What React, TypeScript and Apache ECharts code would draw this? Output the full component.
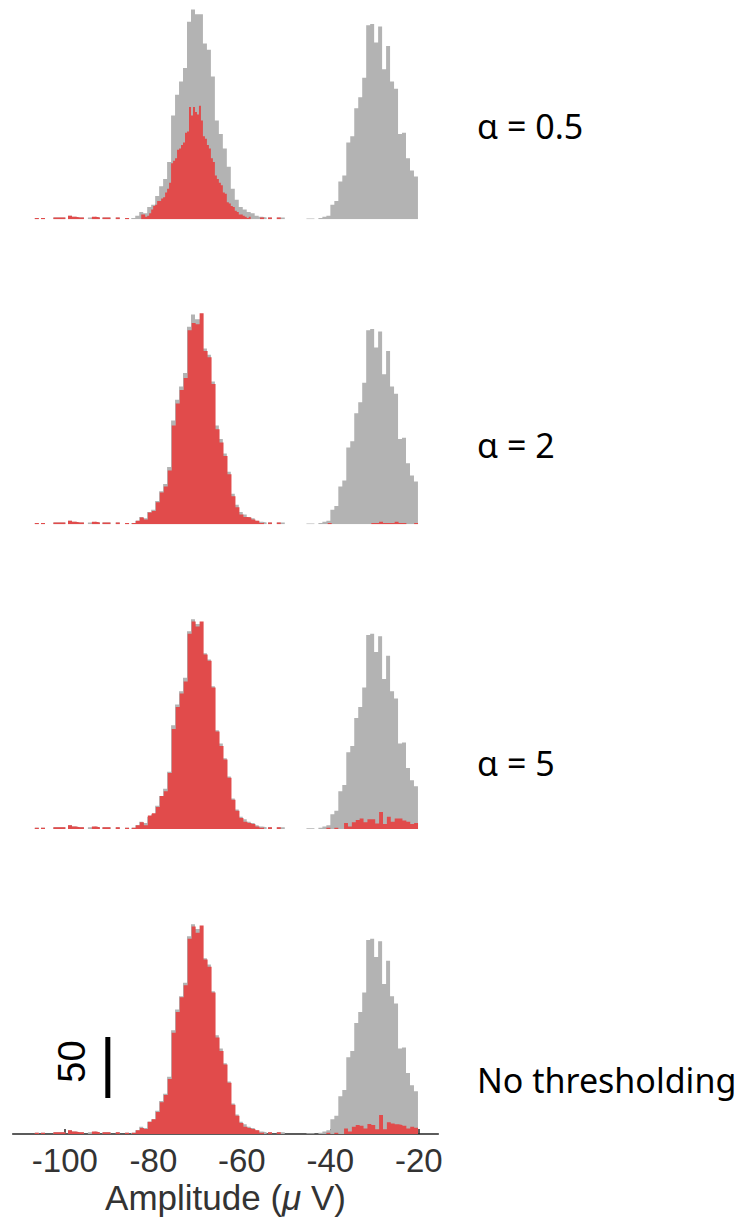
import React, { useEffect, useRef } from "react";
import * as echarts from "echarts";

// ---------- data ----------
const BIN_W = 0.9;
const RED_FINE_W = 0.45;
const RED_RIGHT_W = 0.88;

const xMin = -111.8;
const xMax = -15.6;
const yMax = 175;
const tickValues = [-100, -80, -60, -40, -20];

// total (gray) histogram, identical in every panel
const grayLeftStart = -85.0;
const grayLeft = [1, 3, 6, 5, 10, 12, 19, 27, 33, 47, 85, 102, 113, 124, 162, 172, 168, 168, 144, 139, 117, 81, 70, 58, 43, 25, 16, 10, 8, 6, 5, 3, 2];
const grayRightStart = -42.7;
const grayRight = [1, 2, 3, 12, 15, 31, 36, 63, 68, 91, 100, 116, 159, 160, 145, 158, 123, 142, 113, 107, 70, 71, 50, 40, 35];
const grayOutliers: [number, number][] = [
  [-106.8, 1], [-105.4, 1], [-102.6, 1.5], [-101.7, 1.5], [-100.8, 1.5], [-99.3, 3], [-98.4, 2], [-97.5, 1.5],
  [-96.6, 1.5], [-94.8, 1.5], [-93.9, 2], [-93.0, 1.5], [-91.5, 1.5], [-90.6, 1.5], [-88.5, 1.5], [-86.4, 1],
  [-55.3, 1.5], [-54.1, 1.5], [-52.1, 1.5], [-51.2, 1.5], [-45.4, 0.7], [-44.5, 0.7],
];

// detected (red) histograms
const redOutliers: [number, number][] = [
  [-106.8, 1], [-105.4, 1], [-102.6, 1.5], [-101.7, 1.5], [-100.8, 1.5], [-99.3, 3], [-98.4, 2], [-97.5, 1.5],
  [-96.6, 1.5], [-93.9, 2], [-93.0, 1.5], [-91.5, 1.5], [-90.6, 1.5], [-88.5, 1.5], [-86.4, 1],
  [-55.9, 1.5], [-54.1, 1.5], [-52.1, 1.5],
];

// alpha = 0.5 (finer bins)
const red1LeftStart = -85.0;
const red1Left = [0, 0, 0, 0, 0, 4, 4, 2, 3, 5, 8, 11, 12, 15, 15, 17, 18, 22, 25, 30, 46, 48, 50, 57, 58, 61, 63, 71, 72, 92, 85, 92, 88, 86, 93, 81, 68, 66, 61, 58, 50, 47, 36, 33, 30, 28, 22, 21, 14, 13, 11, 10, 7, 6, 4, 4, 3, 2, 1, 2];

// alpha = 2, 5, no thresholding
const redLeftStart = -84.85;
const red2Left = [1, 3, 5.5, 4, 9.6, 11, 18, 26, 31, 44, 81, 99, 110, 120, 159, 165, 164, 173, 142, 137, 115, 78, 67, 56, 41, 23, 14, 8, 6, 5.5, 4, 3, 1];
const red3Left = [1, 3, 5.5, 3, 11, 13, 18, 27, 31, 46, 82, 100, 111, 121, 160, 170, 166, 170, 143, 138, 116, 80, 68, 57, 42, 24, 15, 9, 6, 5, 4, 2, 1];
const red4Left = [1, 3, 5, 4, 10, 12, 18, 26, 32, 45, 83, 100, 112, 122, 160, 170, 165, 171, 143, 137, 116, 79, 68, 57, 42, 24, 15, 9, 6, 5, 4, 3, 1];

const redRightStart = -36.9;
const red2Right = [0, 0, 0, 0, 0, 0, 0, 1, 1, 2, 1, 1, 1, 2, 1, 1, 0, 0, 1];
const red3Right = [5, 2, 5.5, 7.4, 8.7, 5.5, 8, 8, 4.6, 14, 4, 10, 6, 8.7, 8.7, 7, 6, 4, 5];
const red4Right = [4.6, 2, 6, 7.4, 6.8, 4.6, 8.2, 7.4, 3.8, 15.6, 3.8, 9.6, 8.7, 7.9, 7.4, 6.8, 4.6, 6, 5.2];
const red2RightOutliers: [number, number][] = [[-40.6, 1]];
const red34RightOutliers: [number, number][] = [[-40.9, 1], [-39.1, 1]];

const panelLabels = ["α = 0.5", "α = 2", "α = 5", "No thresholding"];

const scaleBarX = -90.3;
const scaleBarFrom = 29.5;
const scaleBarTo = 79.5;
const scaleBarLabel = "50";

// ---------- helpers ----------
const GRAY = "#b3b3b3";
const RED = "#e14b4b";

function bins(start: number, width: number, values: number[]) {
  const out: number[][] = [];
  values.forEach((v, i) => {
    if (v > 0) out.push([start + i * width, start + (i + 1) * width, v]);
  });
  return out;
}
function outlierBins(list: [number, number][], width: number) {
  return list.map(([s, v]) => [s, s + width, v]);
}
// bins -> points for a stepped area (step: "end")
function toStep(list: number[][]) {
  const sorted = [...list].sort((a, b) => a[0] - b[0]);
  const pts: number[][] = [];
  let prevEnd = -Infinity;
  for (const [x0r, x1, v] of sorted) {
    const x0 = Math.max(x0r, prevEnd);
    if (x1 <= x0) continue;
    if (pts.length && x0 > prevEnd + 1e-6) pts.push([prevEnd, 0]);
    pts.push([x0, v]);
    prevEnd = x1;
  }
  pts.push([prevEnd, 0]);
  return pts;
}

function histSeries(idx: number, data: number[][], color: string) {
  return {
    type: "line",
    xAxisIndex: idx,
    yAxisIndex: idx,
    silent: true,
    step: "end",
    symbol: "none",
    showSymbol: false,
    data: toStep(data),
    lineStyle: { width: 0, opacity: 0 },
    areaStyle: { color, opacity: 1 },
  };
}

const baselines = [219.3, 524.3, 829, 1134];
const labelY = [126, 445, 763, 1080];
const gridH = yMax * 1.22;

export default function App() {
  const ref = useRef<HTMLDivElement>(null);
  useEffect(() => {
    if (!ref.current) return;
    const chart = echarts.init(ref.current, null, { renderer: "svg" });

    const grayData = [
      ...bins(grayLeftStart, BIN_W, grayLeft),
      ...bins(grayRightStart, BIN_W, grayRight),
      ...outlierBins(grayOutliers, BIN_W),
    ];
    const redData = [
      [...bins(red1LeftStart, RED_FINE_W, red1Left), ...outlierBins(redOutliers, BIN_W)],
      [
        ...bins(redLeftStart, BIN_W, red2Left),
        ...bins(redRightStart, RED_RIGHT_W, red2Right),
        ...outlierBins(redOutliers, BIN_W),
        ...outlierBins(red2RightOutliers, BIN_W),
      ],
      [
        ...bins(redLeftStart, BIN_W, red3Left),
        ...bins(redRightStart, RED_RIGHT_W, red3Right),
        ...outlierBins(redOutliers, BIN_W),
        ...outlierBins(red34RightOutliers, BIN_W),
      ],
      [
        ...bins(redLeftStart, BIN_W, red4Left),
        ...bins(redRightStart, RED_RIGHT_W, red4Right),
        ...outlierBins(redOutliers, BIN_W),
        ...outlierBins(red34RightOutliers, BIN_W),
      ],
    ];

    const grids = baselines.map((b) => ({ left: 12.7, width: 425.6, top: b - gridH, height: gridH }));
    const xAxes = baselines.map((_, i) => {
      const last = i === 3;
      return {
        type: "value",
        gridIndex: i,
        min: xMin,
        max: xMax,
        show: last,
        splitLine: { show: false },
        axisLine: { show: last, onZero: false, lineStyle: { color: "#262626", width: 1.5 } },
        axisTick: { show: last, inside: true, length: 5, customValues: tickValues, lineStyle: { color: "#262626", width: 1.5 } },
        axisLabel: {
          show: last,
          customValues: tickValues,
          fontSize: 33,
          fontFamily: "Liberation Sans",
          color: "#333",
          margin: 10,
        },
        name: last ? "Amplitude ({mu|μ} V)" : "",
        nameLocation: "middle",
        nameGap: 46,
        nameTextStyle: {
          fontSize: 35,
          fontFamily: "Liberation Sans",
          color: "#333",
          rich: { mu: { fontStyle: "italic", fontSize: 35, fontFamily: "Liberation Sans", color: "#333" } },
        },
      };
    });
    const yAxes = baselines.map((_, i) => ({ type: "value", gridIndex: i, min: 0, max: yMax, show: false, splitLine: { show: false } }));

    const series: any[] = [];
    for (let i = 0; i < 4; i++) {
      series.push(histSeries(i, grayData, GRAY));
      series.push(histSeries(i, redData[i], RED));
    }
    series.push({
      type: "custom",
      xAxisIndex: 3,
      yAxisIndex: 3,
      silent: true,
      data: [[scaleBarX, scaleBarFrom, scaleBarTo]],
      encode: { x: 0, y: [1, 2] },
      renderItem: (_p: any, api: any) => {
        const a = api.coord([api.value(0), api.value(1)]);
        const b = api.coord([api.value(0), api.value(2)]);
        const mid = (a[1] + b[1]) / 2;
        return {
          type: "group",
          children: [
            { type: "line", shape: { x1: a[0], y1: a[1], x2: b[0], y2: b[1] }, style: { stroke: "#000", lineWidth: 5 } },
            {
              type: "text",
              x: a[0] - 36,
              y: mid - 6,
              rotation: Math.PI / 2,
              style: { text: scaleBarLabel, fontSize: 38, fontFamily: "Liberation Sans", fill: "#000", align: "center", verticalAlign: "middle" },
            },
          ],
        };
      },
    });

    chart.setOption({
      animation: false,
      backgroundColor: "#fff",
      grid: grids,
      xAxis: xAxes,
      yAxis: yAxes,
      series,
      graphic: panelLabels.map((t, i) => ({
        type: "text",
        x: 477,
        y: labelY[i],
        style: { text: t, fontSize: 34, fontFamily: "Noto Sans", fill: "#000", align: "left", verticalAlign: "middle" },
      })),
    });
    return () => chart.dispose();
  }, []);
  return <div ref={ref} style={{ position: "absolute", left: 0, top: 0, width: 740, height: 1217 }} />;
}
